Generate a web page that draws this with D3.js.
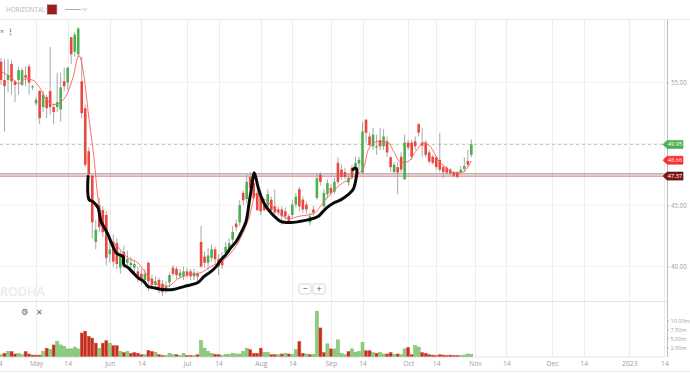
<!DOCTYPE html>
<html>
<head>
<meta charset="utf-8">
<script src="https://cdn.jsdelivr.net/npm/d3@7"></script>
<style>
  body { margin: 0; background: #fff; font-family: "Open Sans", sans-serif; }
  svg { display: block; }
</style>
</head>
<body>
<svg id="chart" width="690" height="373"></svg>
<script>
// daily candles, one per trading day (index 0 = mid April 2022, 134 = 31 Oct)
const open = [56.7,55.2,55.2,56.5,55.1,55.2,54.8,55.6,56.3,54.6, 53.3,54.3,53.0,53.8,54.3,53.0,53.0,52.8,55.1,55.0,
  58.7,57.5,57.3,55.1,52.9,49.4,47.4,42.0,45.0,44.6, 44.2,41.0,42.0,41.9,39.9,41.2,40.3,40.1,39.9,39.6,
  39.4,38.9,40.3,39.0,38.5,38.9,38.6,38.1,38.7,39.9, 39.8,39.2,39.2,39.6,39.6,39.2,39.4,42.0,40.8,40.3,
  40.7,41.4,40.6,40.7,41.1,41.4,42.2,43.5,43.6,46.0, 45.5,47.3,46.8,46.0,45.7,45.05,44.9,45.45,44.9,44.65,
  44.65,44.5,44.1,44.2,45.05,46.3,45.45,45.05,43.6,44.65, 45.6,47.5,44.9,45.9,46.4,46.1,48.45,47.9,47.7,46.85,
  48.05,48.15,48.4,47.65,51.97,50.6,49.8,49.7,50.3,49.8, 50.2,48.9,47.7,48.1,48.95,47.1,50.1,50.1,50.2,51.6,
  50.1,50.1,49.3,48.95,48.9,48.7,48.1,48.05,47.9,47.65, 47.65,47.7,47.95,48.6,49.1]
const high = [57.0,56.9,56.9,56.8,55.2,56.3,56.2,56.3,56.5,54.8, 53.8,54.4,54.3,54.0,57.9,53.3,55.8,55.8,56.2,56.3,
  58.7,59.1,59.5,57.1,53.2,49.7,47.5,43.8,45.6,44.9, 44.5,42.2,42.6,42.3,41.3,41.7,41.3,40.8,40.5,40.0,
  39.8,39.8,40.4,39.3,39.2,39.1,38.9,38.8,39.5,40.1, 40.0,39.8,40.0,39.9,39.8,39.8,39.6,43.3,41.2,41.5,
  41.8,41.6,41.0,41.2,42.0,42.3,43.3,43.8,45.4,46.2, 47.5,47.7,47.2,46.3,46.0,45.45,46.3,45.7,46.3,44.9,
  44.9,44.8,44.3,45.45,46.0,46.5,45.7,45.3,44.4,44.95, 47.6,47.7,46.3,47.1,46.7,47.25,48.9,48.3,48.05,47.6,
  48.3,48.95,48.95,51.8,52.0,50.9,51.3,50.75,51.3,51.2, 50.6,49.0,48.5,48.5,49.3,50.75,50.3,50.3,50.6,51.7,
  51.3,50.3,49.5,49.1,49.0,50.9,48.3,48.2,48.05,47.8, 47.8,48.2,48.9,49.5,50.35]
const low = [54.8,51.0,54.2,54.0,53.4,54.0,54.7,54.7,54.0,54.4, 53.1,51.6,52.6,52.1,52.4,51.6,52.6,51.8,54.3,54.4,
  56.5,57.1,57.1,52.1,48.1,47.2,42.3,41.4,42.8,42.4, 40.1,40.3,40.0,39.8,39.4,39.9,40.0,39.6,39.5,38.7,
  38.5,38.6,38.0,38.1,38.2,37.8,37.6,37.8,38.3,39.2, 39.0,39.0,38.9,39.1,38.9,38.9,38.8,39.9,39.9,39.7,
  40.4,40.2,39.3,39.8,40.8,41.1,41.9,42.9,43.3,45.0, 45.2,46.1,45.45,44.5,44.2,44.5,44.6,44.4,44.2,44.15,
  43.4,43.8,43.5,44.0,44.8,44.5,44.4,44.3,43.35,44.15, 45.45,46.6,44.6,45.6,45.8,45.9,46.7,47.1,47.1,46.6,
  47.1,47.3,47.9,47.5,50.1,49.8,49.5,49.1,49.5,49.5, 48.9,47.7,47.6,45.9,47.65,47.1,49.5,48.7,49.5,50.6,
  48.9,48.9,48.4,48.3,47.9,47.7,47.2,47.5,47.4,47.25, 47.2,47.5,47.7,48.1,48.9]
const close = [55.2,54.7,55.6,55.1,54.8,56.0,56.0,55.4,55.0,54.7, 53.6,52.1,54.0,52.9,53.0,52.6,53.4,54.6,54.7,56.2,
  57.3,58.9,59.4,52.5,48.3,47.5,43.6,43.0,43.2,42.8, 40.7,41.4,40.4,40.2,40.8,40.4,40.6,40.3,40.2,39.1,
  39.0,39.4,38.8,38.5,38.8,38.1,37.9,38.4,39.3,39.4, 39.3,39.5,39.6,39.3,39.2,39.5,39.2,40.0,40.3,40.9,
  41.4,40.6,40.0,40.1,41.6,41.9,42.8,43.2,45.0,45.4, 46.9,46.4,45.6,44.6,44.5,44.6,45.9,44.6,44.4,44.4,
  44.1,44.1,43.7,45.05,45.7,44.9,44.65,44.65,44.1,44.4, 47.2,46.9,46.0,46.8,46.0,46.9,46.9,47.3,47.3,47.25,
  47.25,48.45,48.7,51.0,50.9,49.9,50.75,49.8,49.8,50.6, 49.3,48.1,48.3,47.65,47.9,50.1,49.7,48.95,49.8,50.9,
  49.85,49.1,48.55,48.45,48.1,47.9,47.7,47.65,47.6,47.4, 47.3,47.9,48.2,48.3,49.95]
// volume in millions
const volume = [0.5,0.9,1.4,1.4,0.7,0.9,0.5,1.4,0.7,0.4, 0.4,0.4,1.4,2.3,1.9,3.2,4.2,3.2,2.8,2.1,
  2.1,2.6,2.1,6.5,7.0,5.6,5.1,3.7,2.3,3.7, 4.4,3.7,3.0,3.0,1.4,1.1,1.4,0.9,1.1,0.9,
  0.5,0.5,1.7,1.4,1.2,0.5,0.3,0.3,0.9,0.5, 0.5,0.3,0.9,0.3,0.3,0.3,0.5,4.4,2.3,1.4,
  0.9,0.6,0.5,0.3,0.6,0.6,0.9,0.7,0.7,1.4, 2.3,1.9,0.9,0.9,2.3,1.1,1.1,0.5,0.5,0.5,
  0.7,0.9,0.7,0.5,1.9,4.2,0.9,0.7,0.5,0.6, 12.5,7.9,1.1,3.5,2.1,2.1,4.6,0.8,0.5,1.4,
  2.1,1.2,1.4,3.9,1.6,1.6,1.1,0.9,1.1,0.7, 0.7,1.1,0.6,0.7,0.5,2.1,2.5,0.5,3.0,2.6,
  1.1,0.9,0.5,0.4,0.3,0.5,0.4,0.3,0.4,0.3, 0.3,0.3,0.4,0.7,0.6]

// moving average (index, value)
const maIdx = [0,3,5,7,9,11,12.5,15,17,18.5,20.5,22.2,23.6,25,26.5,27.6,29.3,31.3,33.6,36.2,39,41.9,44.7,47.6,50.4,53.3,57,59.8,62.7,65.5,68.4,70.7,72.6,75.5,78.5,82,85,88.9,92.6,96.3,100.3,103.4,104.6,107.4,110.3,112,114,116,118.2,120.5,122.5,124.5,126.8,129,131.6,134]
const maVal = [55.9,55.4,54.9,55.3,55.2,54.6,53.8,53.2,53.4,53.9,55.4,57.2,55.6,52.2,48.8,45.6,43.2,42.2,41.5,40.7,40.3,39.2,38.5,38.4,39.0,39.3,39.5,40.0,40.4,41.1,42.4,44.0,45.9,45.4,44.6,43.9,44.1,44.3,45.5,46.6,47.3,48.1,49.5,50.2,50.1,49.3,48.45,48.55,49.4,50.1,49.7,48.7,48.05,47.65,47.7,48.6]

// hand-drawn cup and handle (index, price)
const sketchIdx = [24.8,25.1,26.2,27.6,28.5,29.3,30.5,31.3,31.9,32.8,33.6,34.8,35.0,36.2,37.6,39.0,40.7,41.9,43.3,46.2,49.0,52.1,56.1,57.8,59.8,61.3,62.7,64.1,65.5,67.0,68.4,69.8,70.7,71.5,72.1,72.6,73.2,74.1,75.5,76.9,78.3,79.8,82.1,84.9,87.7,90.3,91.7,93.2,94.9,96.9,98.9,100.3,101.1,101.4,100.9,100.3]
const sketchVal = [47.33,45.45,45.29,44.8,43.66,43.25,42.6,42.03,41.62,41.13,40.97,40.8,40.15,39.91,39.5,39.09,38.77,38.36,38.28,38.12,38.12,38.36,38.69,39.17,39.58,39.99,40.56,40.97,41.54,42.03,42.76,43.66,45.2,46.67,47.65,47.25,46.51,45.7,44.88,44.39,43.98,43.66,43.58,43.66,43.82,44.07,44.47,44.88,45.2,45.45,45.86,46.27,47.08,47.9,48.06,47.9]

const xTickIdx = [-0.8,10,19,31,40,53,62,74,83,94,103,116,124,135,144,157,166,179,189]
const xTickLabel = ["14","May","14","Jun","14","Jul","14","Aug","14","Sep","14","Oct","14","Nov","14","Dec","14","2023","14"]
const priceTicks = [40,45,50,55]
const priceLabels = [40,45,55]
const volTicks = [2.5,5,7.5,10]

const lastPrice = 49.95
const maLast = 48.66
const hLine = 47.37
const grayLine = 47.55

const svg = d3.select("#chart")
const W = 690, axisX = 667
const red = "#e8483f", green = "#4caf50"

const x = d3.scaleLinear().domain([0, 190]).range([1, 1 + 3.51 * 190])
const y = d3.scaleLinear().domain([40, 55]).range([266.5, 82.5])
const v = d3.scaleLinear().domain([0, 10]).range([356.5, 320.3])

// clip regions
const defs = svg.append("defs")
defs.append("clipPath").attr("id", "main").append("rect").attr("x", 0).attr("y", 20).attr("width", axisX).attr("height", 281)
defs.append("clipPath").attr("id", "vol").append("rect").attr("x", 0).attr("y", 302).attr("width", axisX).attr("height", 55)

// toolbar
svg.append("text").attr("x", 6).attr("y", 12).attr("font-size", 6.3).attr("fill", "#b5b5b5").text("HORIZONTAL:")
svg.append("rect").attr("x", 47).attr("y", 4.5).attr("width", 10).attr("height", 10).attr("fill", "#9e1b1b").attr("stroke", "#c9c9c9").attr("stroke-width", 0.6)
svg.append("line").attr("x1", 65).attr("x2", 81).attr("y1", 9.5).attr("y2", 9.5).attr("stroke", "#aaa").attr("stroke-width", 1)
svg.append("path").attr("d", "M82.5,8 L84.5,10.5 L86.5,8").attr("fill", "none").attr("stroke", "#aaa").attr("stroke-width", 0.8)
svg.append("line").attr("x1", 0).attr("x2", W).attr("y1", 19.5).attr("y2", 19.5).attr("stroke", "#e6e6e6")

// grid
svg.append("g").selectAll("line").data(xTickIdx).join("line")
  .attr("x1", d => Math.round(x(d)) + 0.5).attr("x2", d => Math.round(x(d)) + 0.5)
  .attr("y1", 20).attr("y2", 357).attr("stroke", "#ececec")
svg.append("g").selectAll("line").data(priceTicks).join("line")
  .attr("x1", 0).attr("x2", axisX).attr("y1", d => y(d)).attr("y2", d => y(d)).attr("stroke", "#f0f0f0")

// watermark (left part is off the canvas in the original)
svg.append("text").attr("x", 0).attr("y", 296)
  .attr("font-size", 12.5).attr("font-weight", 600).attr("fill", "#ebebeb").text("RODHA")

// panel lines
svg.append("line").attr("x1", 0).attr("x2", axisX).attr("y1", 301.5).attr("y2", 301.5).attr("stroke", "#e2e2e2")
svg.append("line").attr("x1", 0).attr("x2", axisX).attr("y1", 357).attr("y2", 357).attr("stroke", "#e6e6e6")
svg.append("line").attr("x1", 0).attr("x2", W).attr("y1", 371.5).attr("y2", 371.5).attr("stroke", "#e6e6e6")
svg.append("line").attr("x1", axisX + 0.5).attr("x2", axisX + 0.5).attr("y1", 20).attr("y2", 357).attr("stroke", "#bdbdbd")

const main = svg.append("g").attr("clip-path", "url(#main)")

// reference lines
main.append("line").attr("x1", 0).attr("x2", axisX).attr("y1", y(lastPrice)).attr("y2", y(lastPrice))
  .attr("stroke", "#a9d8a3").attr("stroke-dasharray", "3,3")
main.append("line").attr("x1", 0).attr("x2", axisX).attr("y1", y(grayLine)).attr("y2", y(grayLine))
  .attr("stroke", "#8a8a8a")
main.append("line").attr("x1", 0).attr("x2", axisX).attr("y1", y(hLine)).attr("y2", y(hLine))
  .attr("stroke", "#e06666")

const idx = d3.range(close.length)

// wicks
main.append("g").selectAll("line").data(idx).join("line")
  .attr("x1", i => x(i)).attr("x2", i => x(i))
  .attr("y1", i => y(high[i])).attr("y2", i => y(low[i]))
  .attr("stroke", "#9e9e9e").attr("stroke-width", 0.9)

// bodies
main.append("g").selectAll("rect").data(idx).join("rect")
  .attr("x", i => x(i) - 1.3).attr("width", 2.6)
  .attr("y", i => y(Math.max(open[i], close[i])))
  .attr("height", i => Math.max(1, Math.abs(y(open[i]) - y(close[i]))))
  .attr("fill", i => close[i] >= open[i] ? green : red)

// moving average
main.append("path")
  .datum(maIdx.map((d, i) => [d, maVal[i]]))
  .attr("d", d3.line().x(d => x(d[0])).y(d => y(d[1])).curve(d3.curveMonotoneX))
  .attr("fill", "none").attr("stroke", "#ff5b5b").attr("stroke-width", 0.9)

// sketch
main.append("path")
  .datum(sketchIdx.map((d, i) => [d, sketchVal[i]]))
  .attr("d", d3.line().x(d => x(d[0])).y(d => y(d[1])).curve(d3.curveCatmullRom))
  .attr("fill", "none").attr("stroke", "#0a0a0a").attr("stroke-width", 3)
  .attr("stroke-linejoin", "round").attr("stroke-linecap", "round")

// volume
const vol = svg.append("g").attr("clip-path", "url(#vol)")
vol.selectAll("rect").data(idx).join("rect")
  .attr("x", i => x(i) - 1.5).attr("width", 3)
  .attr("y", i => v(volume[i])).attr("height", i => v(0) - v(volume[i]))
  .attr("fill", i => (i === 0 || close[i] >= close[i - 1]) ? "#8fcc80" : "#c0301f")
  .attr("stroke", i => (i === 0 || close[i] >= close[i - 1]) ? "#6fb861" : "#e05a4a")
  .attr("stroke-width", 0.5)

// axes
const fmt = d3.format(".2f")
const yAxis = svg.append("g").attr("transform", `translate(${axisX},0)`)
  .call(d3.axisRight(y).tickValues(priceLabels).tickFormat(fmt).tickSize(2).tickPadding(2))
const vAxis = svg.append("g").attr("transform", `translate(${axisX},0)`)
  .call(d3.axisRight(v).tickValues(volTicks).tickFormat(d => fmt(d) + "m").tickSize(2).tickPadding(1.5))
const xAxis = svg.append("g").attr("transform", "translate(0,357)")
  .call(d3.axisBottom(x).tickValues(xTickIdx).tickFormat((d, i) => xTickLabel[i]).tickSize(0).tickPadding(4))
for (const g of [yAxis, vAxis, xAxis]) {
  g.select(".domain").remove()
  g.selectAll("line").attr("stroke", "#bbb")
  g.selectAll("text").attr("fill", "#a0a0a0").attr("font-size", 6.2).attr("font-family", "Open Sans")
}
vAxis.selectAll("text").attr("font-size", 5.5)
xAxis.selectAll("text").attr("font-size", 6.8)

// price tags
function tag(value, fill, stroke, label) {
  const cy = y(value)
  svg.append("path")
    .attr("d", `M${axisX - 4},${cy} L${axisX},${cy - 4} L${axisX + 16},${cy - 4} L${axisX + 16},${cy + 4} L${axisX},${cy + 4} Z`)
    .attr("fill", fill).attr("stroke", stroke).attr("stroke-width", 0.6)
  svg.append("text").attr("x", axisX + 8).attr("y", cy + 2).attr("text-anchor", "middle")
    .attr("font-size", 5.6).attr("fill", "#fff").text(label)
}
tag(lastPrice, "#4caf50", "#4caf50", fmt(lastPrice))
tag(maLast, "#ff2d2d", "#ff2d2d", fmt(maLast))
tag(hLine, "#8b1616", "#111", fmt(hLine))

// chart controls
svg.append("text").attr("x", 0).attr("y", 34).attr("font-size", 7).attr("fill", "#666").text("×")
svg.append("text").attr("x", 7).attr("y", 34).attr("font-size", 7).attr("fill", "#666").attr("font-weight", "bold").text("⋮")
svg.append("text").attr("x", 21).attr("y", 315).attr("font-size", 8.5).attr("fill", "#666").attr("font-family", "DejaVu Sans").text("⚙")
svg.append("text").attr("x", 36).attr("y", 315).attr("font-size", 8).attr("fill", "#666").text("✕")
const btn = svg.append("g")
for (const [bx, s] of [[299, "−"], [313, "+"]]) {
  btn.append("rect").attr("x", bx).attr("y", 284).attr("width", 12).attr("height", 10).attr("rx", 1.5)
    .attr("fill", "#fff").attr("stroke", "#d5d5d5")
  btn.append("text").attr("x", bx + 6).attr("y", 292).attr("text-anchor", "middle")
    .attr("font-size", 9).attr("fill", "#555").text(s)
}
</script>
</body>
</html>
